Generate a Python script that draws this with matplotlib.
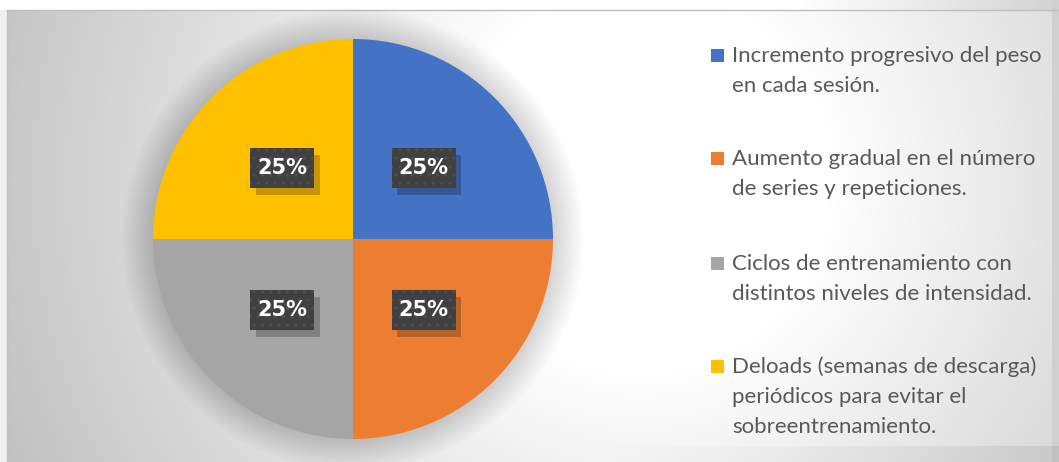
import numpy as np
import matplotlib
matplotlib.use("Agg")
import matplotlib.pyplot as plt
from matplotlib.patches import Rectangle, Circle

plt.rcParams['font.family'] = ['Lato', 'DejaVu Sans']

# Data
labels = [
    "Incremento progresivo del peso\nen cada sesión.",
    "Aumento gradual en el número\nde series y repeticiones.",
    "Ciclos de entrenamiento con\ndistintos niveles de intensidad.",
    "Deloads (semanas de descarga)\nperiódicos para evitar el\nsobreentrenamiento.",
]
values = [25, 25, 25, 25]
colors = ["#4472C4", "#ED7D31", "#A5A5A5", "#FFC000"]

W, H = 1059, 462
fig = plt.figure(figsize=(W / 100, H / 100), dpi=100)

# Background gradient (chart area)
yy, xx = np.mgrid[0:H, 0:W]
d = np.hypot(xx - 640, yy - 180)
bg = 255 - 0.123 * np.clip(d - 189, 0, None)
# outer strips
bg[:, :7] = 240
top = np.where(xx[:10] < 800, 255, 255 - (xx[:10] - 800) / 259 * 44)
bg[:10] = top
bg[:, 1052:] = 208
ramp = np.clip((xx[446:] - 600) / 459, 0, 1)
bg[446:] = bg[446:] - 16 * ramp
bg = np.clip(bg, 0, 255) / 255.0

ax_bg = fig.add_axes([0, 0, 1, 1])
ax_bg.imshow(np.dstack([bg, bg, bg]), extent=(0, W, H, 0), aspect='auto',
             interpolation='bilinear')
ax_bg.plot([7, 7], [H, 10], color="#bfbfbf", lw=1)
ax_bg.plot([7, W], [10, 10], color="#bfbfbf", lw=1)
ax_bg.set_xlim(0, W)
ax_bg.set_ylim(H, 0)
ax_bg.axis('off')

# Pie
ax = fig.add_axes([153 / W, (H - 439) / H, 400 / W, 400 / H])
for i in range(1, 15):
    ax.add_patch(Circle((0, 0), 1 + 0.011 * i, color='black', alpha=0.011,
                        lw=0, clip_on=False, zorder=0))
wedges, texts, autotexts = ax.pie(
    values, colors=colors, startangle=90, counterclock=False,
    autopct='%.0f%%', pctdistance=0.5, radius=1,
    wedgeprops=dict(linewidth=0),
    textprops=dict(color='white', fontsize=15, fontweight='bold',
                   family='DejaVu Sans'))
for t in autotexts:
    x, y = t.get_position()
    ax.add_patch(Rectangle((x - 0.16 + 0.028, y - 0.1 - 0.035), 0.32, 0.2,
                           facecolor='black', alpha=0.22, lw=0, zorder=3))
    ax.add_patch(Rectangle((x - 0.16, y - 0.1), 0.32, 0.2,
                           facecolor='#404040', edgecolor='#4f4f4f',
                           hatch='..', lw=0, zorder=4))
    t.set_zorder(5)
    t.set_va('center')
ax.set_xlim(-1, 1)
ax.set_ylim(-1, 1)
ax.set_aspect('auto')
ax.axis('off')

# Legend
entry_y = [55, 158, 263, 366]
line_gap = 30
for lab, col, ey in zip(labels, colors, entry_y):
    ax_bg.add_patch(Rectangle((711, ey - 6.5), 13, 13, facecolor=col, lw=0))
    for j, line in enumerate(lab.split("\n")):
        ax_bg.text(732, ey + 7 + j * line_gap, line, fontsize=16,
                   color="#595959", va='baseline', ha='left')

fig.savefig("out.png", dpi=100)
